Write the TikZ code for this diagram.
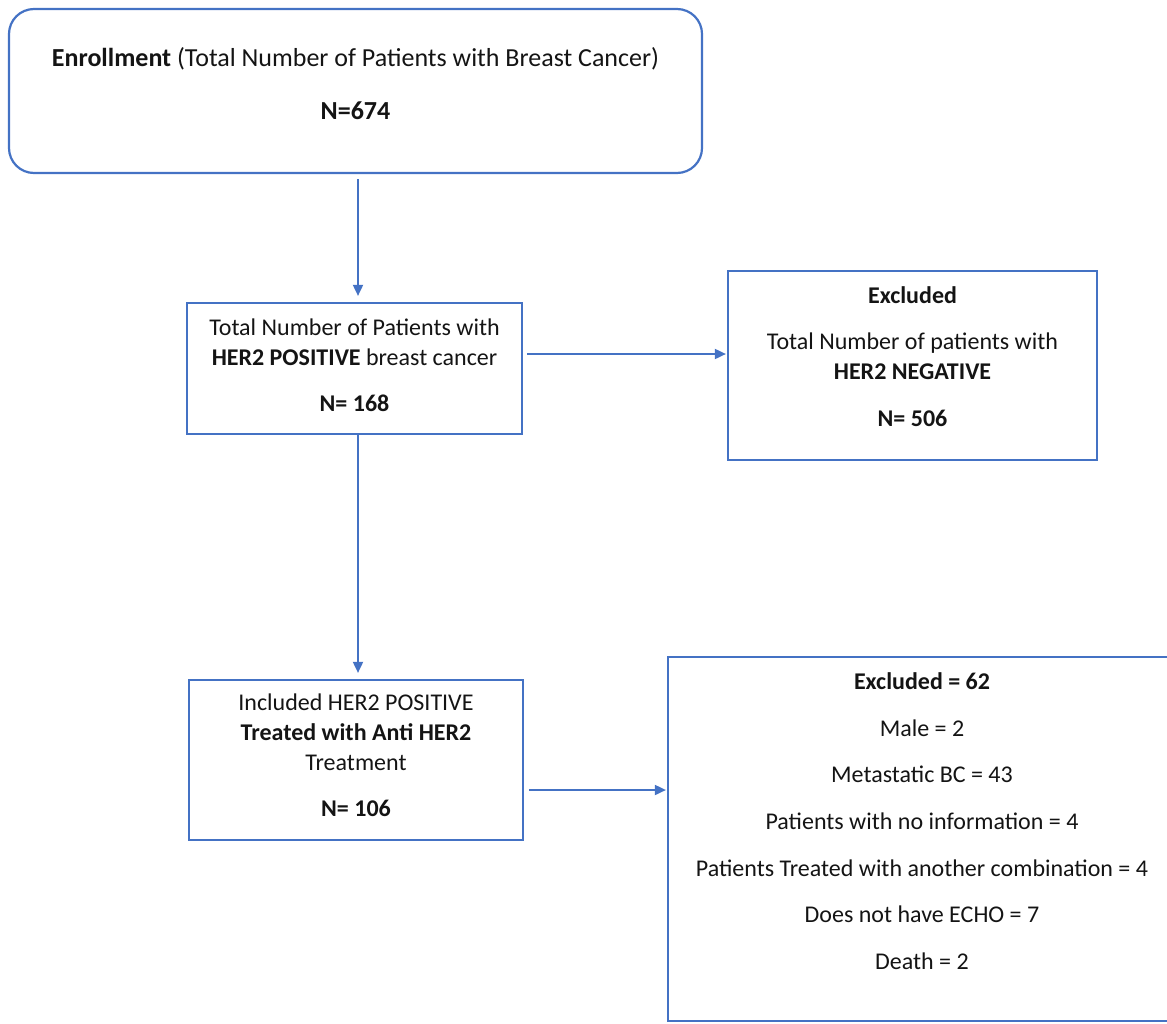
\documentclass[tikz,border=0pt]{standalone}
\usepackage{fontspec}
\setmainfont{Carlito}
\usetikzlibrary{arrows.meta, positioning, calc}
\definecolor{wordblue}{HTML}{4472C4}
\newcommand{\padbelow}[1]{\rule[-#1]{0pt}{#1}}

\begin{document}
\begin{tikzpicture}[x=1pt, y=-1pt,
    box/.style={draw=wordblue, line width=2.2pt, align=center, text=black!92,
                inner sep=2pt, font={\fontsize{24}{30}\selectfont}},
    flow/.style={wordblue, line width=1.8pt, -{Triangle[length=11pt, width=10pt]}}]
  \useasboundingbox (0,0) rectangle (1167,1023);

  % boxes
  \node[box, rounded corners=25pt, minimum width=693pt, minimum height=164pt,
        font={\fontsize{26}{32}\selectfont}] (enrol) at (355.5,91)
    {\textbf{Enrollment} (Total Number of Patients with Breast Cancer)\\[21pt]
     \textbf{N=674}\padbelow{15pt}};
  \node[box, minimum width=335pt, minimum height=131pt] (pos) at (354.5,368.5)
    {Total Number of Patients with\\
     \textbf{HER2 POSITIVE} breast cancer\\[16.5pt]
     \textbf{N= 168}\padbelow{7pt}};
  \node[box, minimum width=369pt, minimum height=189pt] (neg) at (912.5,365.5)
    {\textbf{Excluded}\\[16.5pt]
     Total Number of patients with\\
     \textbf{HER2 NEGATIVE}\\[16.5pt]
     \textbf{N= 506}\padbelow{18pt}};
  \node[box, minimum width=334pt, minimum height=160pt] (incl) at (356,760)
    {Included HER2 POSITIVE\\
     \textbf{Treated with Anti HER2}\\
     Treatment\\[16pt]
     \textbf{N= 106}\padbelow{10pt}};
  \node[box, minimum width=508pt, minimum height=364pt] (excl) at (922,839)
    {\textbf{Excluded = 62}\\[16.6pt]
     Male = 2\\[16.6pt]
     Metastatic BC = 43\\[16.6pt]
     Patients with no information = 4\\[16.6pt]
     Patients Treated with another combination = 4\\[16.6pt]
     Does not have ECHO = 7\\[16.6pt]
     Death = 2\padbelow{36pt}};

  % connectors
  \coordinate (side1) at ([yshift=14.5pt]pos.east);
  \coordinate (side2) at ([yshift=-30pt]incl.east);
  \draw[flow, shorten <=5pt, shorten >=6pt] ([xshift=2.5pt]enrol.south) -- ([xshift=3.5pt]pos.north);
  \draw[flow, shorten >=6pt] ([xshift=3.5pt]pos.south) -- ([xshift=2pt]incl.north);
  \draw[flow, shorten <=4pt, shorten >=1pt] (side1) -- (side1 -| neg.west);
  \draw[flow, shorten <=5pt, shorten >=1pt] (side2) -- (side2 -| excl.west);
\end{tikzpicture}
\end{document}
